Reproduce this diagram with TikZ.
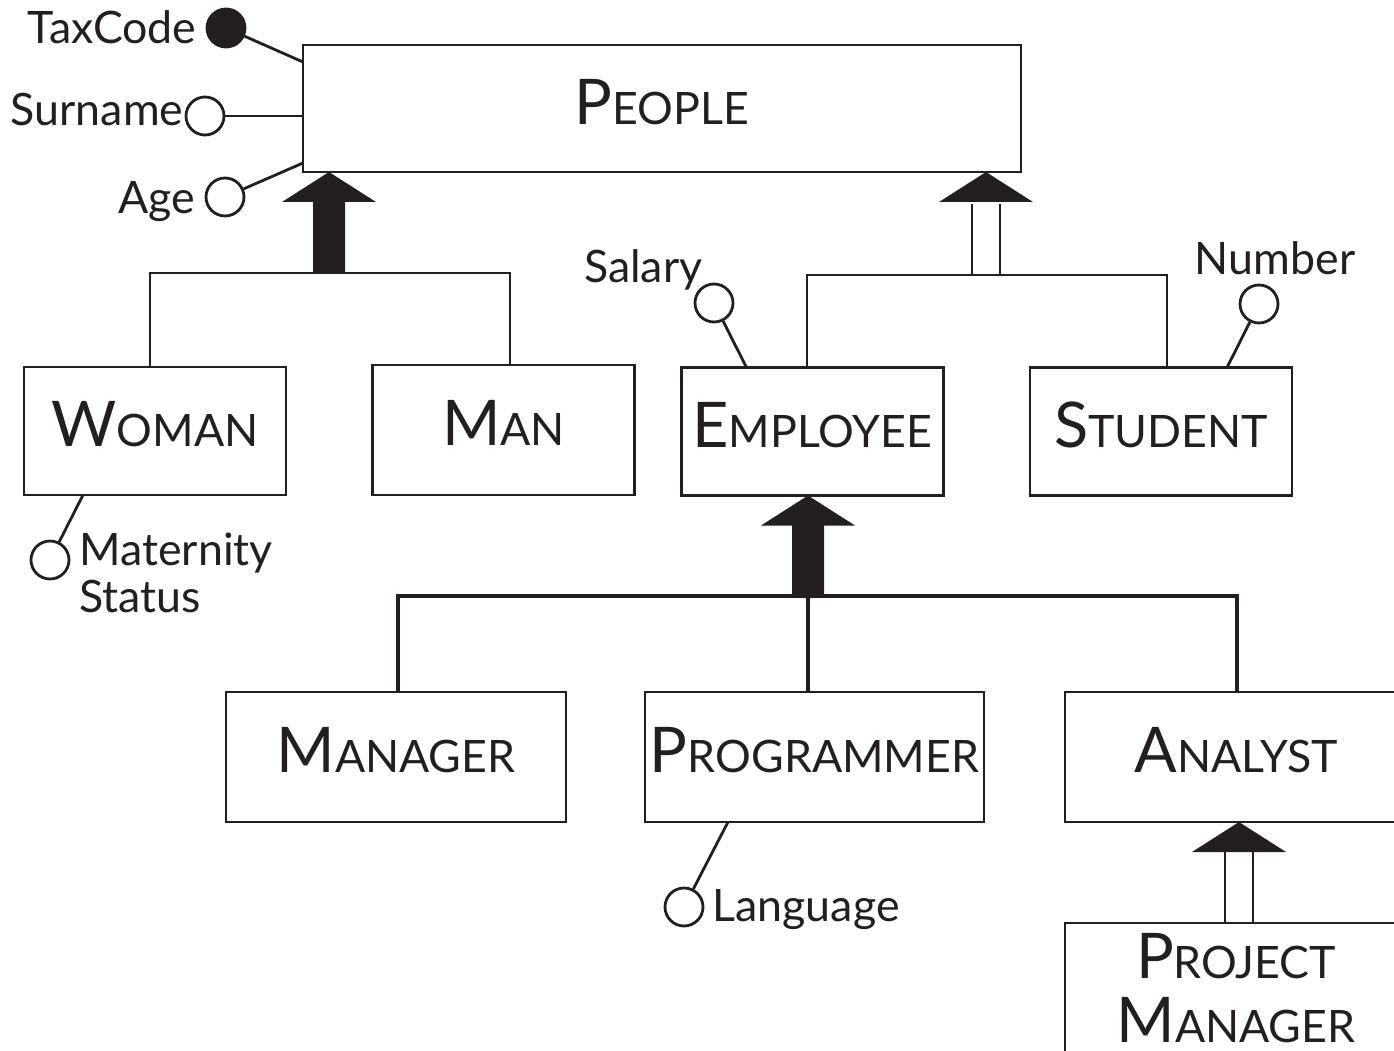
\documentclass[tikz,border=0pt]{standalone}
\usepackage{fontspec}
\setmainfont{Lato}
\usetikzlibrary{positioning}

\definecolor{ink}{RGB}{35,31,32}
% first letter as a capital, the rest as small capitals
\newcommand{\ecap}[2]{{\fontsize{63}{64}\selectfont #1}{\fontsize{44.7}{64}\selectfont #2}}

\tikzset{
  entity/.style={draw=ink, line width=2.8pt, text=ink, inner sep=0pt, outer sep=0pt,
    minimum width=262pt, minimum height=128pt, text height=45pt, text depth=14pt,
    font=\fontsize{63}{64}\selectfont},
  attr/.style={draw=ink, line width=2.8pt, fill=white, circle, minimum size=38pt, inner sep=0pt},
  keyattr/.style={attr, fill=ink},
  attrname/.style={text=ink, inner sep=0pt, text height=32pt, text depth=0pt,
    font=\fontsize{44.7}{47}\selectfont},
  link/.style={draw=ink, line width=2.8pt},
  isalink/.style={draw=ink, line width=3.3pt}
}

\begin{document}
\begin{tikzpicture}[x=1pt, y=-1pt]
    \useasboundingbox (0,0) rectangle (1394,1051);
    \clip (0,0) rectangle (1394,1051); % Analyst and Project Manager run off the page

    % Entities
    \node[entity, minimum width=718pt, minimum height=127pt, text depth=12pt] (people) at (662,108.5) {\ecap{P}{EOPLE}};
    \node[entity] (woman) at (155,431) {\ecap{W}{OMAN}};
    \node[entity, minimum height=130pt] (man) at (503.5,430) {\ecap{M}{AN}};
    \node[entity] (employee) at (812.5,431.5) {\ecap{E}{MPLOYEE}};
    \node[entity] (student) at (1161,431.5) {\ecap{S}{TUDENT}};
    \node[entity, minimum width=340pt, minimum height=130pt] (manager) at (396,757) {\ecap{M}{ANAGER}};
    \node[entity, minimum width=339pt, minimum height=130pt] (programmer) at (814.5,757) {\ecap{P}{ROGRAMMER}};
    \node[entity, minimum width=342pt, minimum height=130pt] (analyst) at (1236,757) {\ecap{A}{NALYST}};
    \node[entity, minimum width=342pt, minimum height=130pt, align=center,
      text height=109pt, text depth=1pt] (projmanager) at (1236,988) {\ecap{P}{ROJECT}\\\ecap{M}{ANAGER}};

    % Attributes
    \node[keyattr] (taxcode) at (226,28) {};
    \node[attr] (surname) at (205,116) {};
    \node[attr] (age) at (225,197) {};
    \node[attr] (salary) at (714,303) {};
    \node[attr] (number) at (1259,304) {};
    \node[attr] (maternity) at (50,560) {};
    \node[attr] (language) at (684,907) {};

    \node[attrname, left=9pt of taxcode] (taxcodename) {TaxCode};
    \node[attrname, left=1pt of surname, yshift=6pt] (surnamename) {Surname};
    \node[attrname, left=9pt of age] (agename) {Age};
    \node[attrname, above left=6pt and -3pt of salary] (salaryname) {Salary};
    \node[attrname, above=9pt of number, xshift=16pt] (numbername) {Number};
    \node[attrname, right=9pt of maternity, yshift=-12.5pt, align=left,
      text height=79pt, text depth=0pt] (maternityname) {Maternity\\Status};
    \node[attrname, right=8pt of language, yshift=2pt] (languagename) {Language};

    \draw[link] (taxcode) -- ([yshift=-17pt]people.north west);
    \draw[link] (surname) -- (surname -| people.west);
    \draw[link] (age) -- ([yshift=9pt]people.south west);
    \draw[link] (salary) -- ([xshift=65pt]employee.north west);
    \draw[link] (number) -- ([xshift=197pt]student.north west);
    \draw[link] (maternity) -- ([xshift=59pt]woman.south west);
    \draw[link] (language) -- ([xshift=83pt]programmer.south west);

    % Generalisations
    \coordinate (isaPeopleA) at (329,273);
    \coordinate (isaPeopleB) at (986,275);
    \coordinate (isaEmployee) at (808,596);
    \coordinate (isaAnalyst) at (1239,923);

    \draw[link] ([xshift=-5pt]woman.north) |- (isaPeopleA) -| ([xshift=6.5pt]man.north);
    \draw[link] ([xshift=-5.5pt]employee.north) |- (isaPeopleB) -| ([xshift=6pt]student.north);
    \draw[isalink] ([xshift=2pt]manager.north) |- (isaEmployee) -| ([xshift=1pt]analyst.north);
    \draw[isalink] (isaEmployee) -- (isaEmployee |- programmer.north);

    \foreach \j/\p in {isaPeopleA/people, isaEmployee/employee}{% filled arrows
      \fill[ink] (\j |- \p.south) -- ++(47,30) -- ++(-31,0) -- ++(0,70)
        -- ++(-32,0) -- ++(0,-70) -- ++(-31,0) -- cycle;
    }
    \foreach \j/\p in {isaPeopleB/people, isaAnalyst/analyst}{% open arrows
      \fill[ink] (\j |- \p.south) -- ++(47,30) -- ++(-94,0) -- cycle;
      \foreach \s in {-14,14}
        \draw[link] ([xshift=\s pt]\j) -- ++(0,-71);
    }
\end{tikzpicture}
\end{document}
